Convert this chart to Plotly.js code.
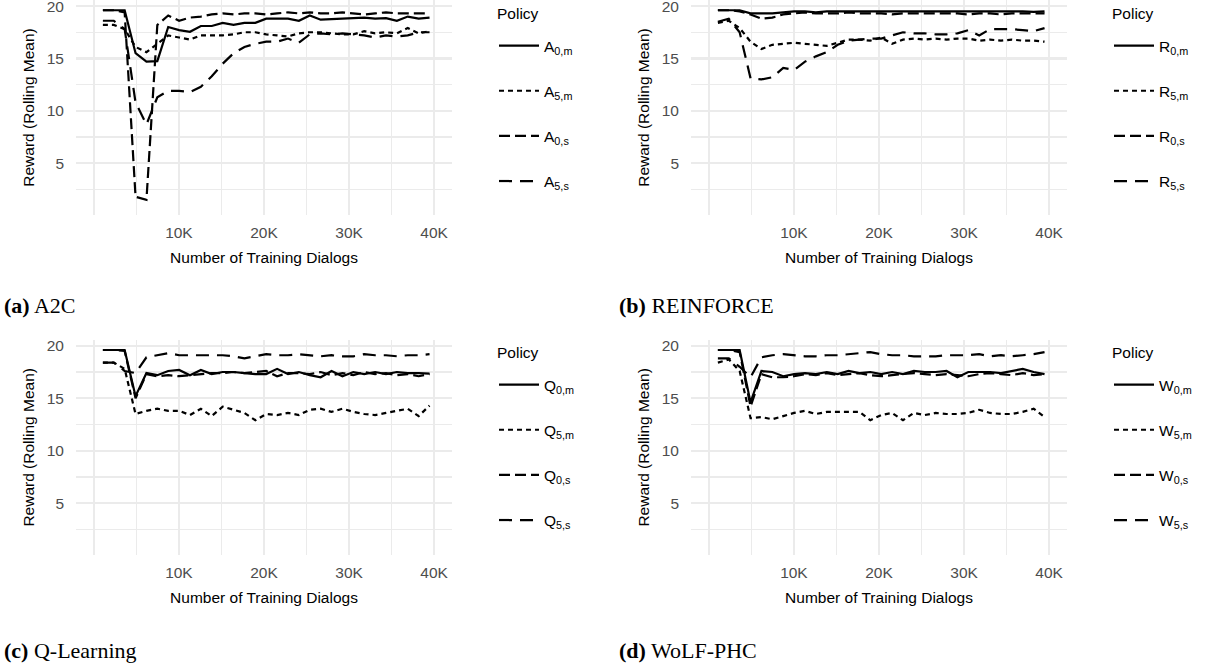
<!DOCTYPE html>
<html><head><meta charset="utf-8">
<script src="https://cdn.plot.ly/plotly-3.0.1.min.js"></script>
<style>html,body{margin:0;padding:0;background:#fff}#chart{width:1205px;height:663px}</style>
</head><body><div id="chart"></div>
<script>
// Number of training dialogs at each rolling-mean point
const dialogs = [1060, 2340, 3620, 4900, 6180, 7460, 8740, 10020, 11300, 12580, 13860, 15140, 16420, 17700, 18980, 20260, 21540, 22820, 24100, 25380, 26660, 27940, 29220, 30500, 31780, 33060, 34340, 35620, 36900, 38180, 39460];

// Tick labels
const xTickVals = [10000, 20000, 30000, 40000];
const xTickText = ['10K', '20K', '30K', '40K'];
const yTickVals = [5, 10, 15, 20];

// (a) A2C
const a_0m = [19.6,19.6,19.6,15.5,14.7,14.75,18.0,17.7,17.55,18.1,18.1,18.4,18.2,18.4,18.4,18.8,18.8,18.8,18.6,19.1,18.7,18.75,18.8,18.85,18.9,18.8,18.85,18.6,19.0,18.8,18.9];
const a_5m = [18.2,18.2,17.8,16.1,15.6,16.4,17.2,17.0,16.8,17.2,17.2,17.2,17.3,17.5,17.5,17.3,17.2,17.1,17.4,17.5,17.5,17.4,17.3,17.3,17.6,17.4,17.5,17.4,17.9,17.4,17.6];
const a_0s = [19.6,19.6,19.4,1.8,1.5,18.2,19.1,18.6,18.9,19.0,19.2,19.3,19.2,19.3,19.3,19.2,19.3,19.4,19.3,19.4,19.3,19.3,19.4,19.3,19.2,19.3,19.4,19.3,19.3,19.3,19.3];
const a_5s = [18.6,18.6,17.8,10.8,8.7,11.3,11.9,11.9,11.8,12.3,13.3,14.5,15.5,16.1,16.4,16.6,16.6,16.9,16.5,17.3,17.4,17.3,17.4,17.3,17.2,17.0,17.2,17.1,17.2,17.5,17.5];

// (b) REINFORCE
const r_0m = [19.6,19.6,19.6,19.3,19.3,19.3,19.4,19.5,19.5,19.4,19.5,19.5,19.5,19.55,19.5,19.5,19.55,19.5,19.5,19.5,19.5,19.5,19.5,19.5,19.5,19.5,19.5,19.5,19.5,19.45,19.5];
const r_5m = [18.4,18.6,17.9,16.6,15.9,16.3,16.4,16.5,16.4,16.3,16.2,16.5,16.8,16.8,16.7,17.0,16.4,16.8,16.9,16.8,16.9,16.8,16.9,16.9,16.7,16.8,16.7,16.8,16.7,16.7,16.6];
const r_0s = [19.6,19.6,19.5,19.2,18.8,18.9,19.2,19.3,19.4,19.3,19.3,19.3,19.4,19.3,19.3,19.3,19.2,19.3,19.3,19.3,19.3,19.3,19.3,19.2,19.3,19.3,19.2,19.3,19.3,19.3,19.3];
const r_5s = [18.5,18.8,17.5,13.1,13.0,13.2,14.1,13.9,14.7,15.2,15.6,16.3,16.7,16.8,16.9,16.9,17.2,17.5,17.4,17.4,17.3,17.3,17.4,17.7,17.2,17.8,17.8,17.8,17.7,17.6,17.9];

// (c) Q-Learning
const q_0m = [19.6,19.6,19.6,15.2,17.4,17.2,17.6,17.7,17.2,17.7,17.3,17.5,17.5,17.4,17.3,17.3,17.8,17.3,17.5,17.2,17.0,17.6,17.1,17.5,17.3,17.5,17.3,17.5,17.4,17.4,17.35];
const q_5m = [18.4,18.4,17.8,13.5,13.8,14.0,13.8,13.8,13.4,14.0,13.3,14.2,13.9,13.6,12.9,13.5,13.4,13.6,13.4,13.9,14.0,13.7,14.0,13.7,13.5,13.4,13.6,13.8,14.0,13.3,14.3];
const q_0s = [19.6,19.6,19.5,15.0,17.3,17.1,17.2,17.1,17.2,17.3,17.4,17.4,17.5,17.4,17.5,17.6,17.1,17.4,17.4,17.3,17.5,17.2,17.4,17.2,17.5,17.3,17.4,17.2,17.3,17.1,17.3];
const q_5s = [18.4,18.4,17.6,17.4,18.9,19.1,19.3,19.1,19.1,19.1,19.1,19.1,19.0,18.8,19.0,19.2,19.1,19.1,19.2,19.1,19.0,19.1,19.0,19.0,19.2,19.1,19.1,19.0,19.1,19.1,19.2];

// (d) WoLF-PHC
const w_0m = [19.6,19.6,19.6,14.6,17.6,17.5,17.1,17.3,17.4,17.3,17.5,17.3,17.6,17.4,17.5,17.3,17.5,17.3,17.6,17.5,17.5,17.6,17.0,17.5,17.5,17.5,17.4,17.6,17.8,17.5,17.3];
const w_5m = [18.4,18.7,17.6,13.1,13.2,13.0,13.3,13.6,13.8,13.5,13.7,13.7,13.7,13.7,12.9,13.4,13.6,12.9,13.6,13.4,13.6,13.5,13.5,13.6,13.9,13.6,13.5,13.5,13.7,14.0,13.2];
const w_0s = [19.6,19.6,19.4,14.2,17.3,17.0,17.0,17.1,17.3,17.2,17.4,17.2,17.3,17.4,17.2,17.1,17.2,17.3,17.4,17.3,17.2,17.3,17.2,17.1,17.3,17.4,17.3,17.2,17.4,17.2,17.3];
const w_5s = [18.8,18.8,18.0,17.0,18.9,19.1,19.2,19.1,19.0,19.0,19.1,19.1,19.2,19.3,19.4,19.2,19.1,19.1,19.0,19.0,19.0,19.1,19.1,19.1,19.2,19.0,19.1,19.0,19.1,19.2,19.4];

const seriesKeys = ['0,m', '5,m', '0,s', '5,s'];
const captions = ['<b>(a)</b> A2C', '<b>(b)</b> REINFORCE', '<b>(c)</b> Q-Learning', '<b>(d)</b> WoLF-PHC'];

const panels = [
  {letter: 'A', data: [a_0m, a_5m, a_0s, a_5s]},
  {letter: 'R', data: [r_0m, r_5m, r_0s, r_5s]},
  {letter: 'Q', data: [q_0m, q_5m, q_0s, q_5s]},
  {letter: 'W', data: [w_0m, w_5m, w_0s, w_5s]}
];

const W = 1205, H = 663;
const FONT = 'Liberation Sans, Arial, Helvetica, sans-serif';
const dashes = ['solid', '5px,4px', '11px,5px', '13px,8px'];

// pixel geometry of panels
const geo = [
  {x0: 76,  x1: 452,  yTop: 0,     yBot: 215, legX: 494,  titleY: 13,  legY: 29,  capX: 2,   capY: 305},
  {x0: 691, x1: 1067, yTop: 0,     yBot: 215, legX: 1109, titleY: 13,  legY: 29,  capX: 617, capY: 305},
  {x0: 76,  x1: 452,  yTop: 339.7, yBot: 555, legX: 494,  titleY: 352, legY: 368, capX: 2,   capY: 650},
  {x0: 691, x1: 1067, yTop: 339.7, yBot: 555, legX: 1109, titleY: 352, legY: 368, capX: 617, capY: 650}
];

const traces = [];
const layout = {
  width: W, height: H,
  margin: {l: 0, r: 0, t: 0, b: 0},
  paper_bgcolor: '#fff', plot_bgcolor: '#fff',
  font: {family: FONT, size: 15.5, color: '#000'},
  annotations: [],
  showlegend: true
};

panels.forEach((p, i) => {
  const n = i + 1;
  const xa = 'x' + (n === 1 ? '' : n), ya = 'y' + (n === 1 ? '' : n);
  const legName = 'legend' + (n === 1 ? '' : n);
  p.data.forEach((vals, k) => {
    traces.push({
      type: 'scatter', mode: 'lines',
      x: dialogs, y: vals,
      xaxis: xa, yaxis: ya,
      name: p.letter + '<sub>' + seriesKeys[k] + '</sub>',
      legend: legName, legendgroup: p.letter + k,
      line: {color: '#000', width: 2.2, dash: dashes[k]},
      hoverinfo: 'skip'
    });
  });
  const g = geo[i];
  const axX = 'xaxis' + (n === 1 ? '' : n), axY = 'yaxis' + (n === 1 ? '' : n);
  layout[axX] = {
    domain: [g.x0 / W, g.x1 / W], anchor: ya,
    range: [-2100, 42100], tickmode: 'array', tickvals: xTickVals, ticktext: xTickText,
    showgrid: true, gridcolor: '#EBEBEB', gridwidth: 2.2,
    minor: {tickmode: 'array', tickvals: [0, 5000, 15000, 25000, 35000], showgrid: true, gridcolor: '#EBEBEB', gridwidth: 1.5},
    zeroline: false, showline: false, ticks: '', ticklabelstandoff: 6, ticklabeloverflow: 'allow',
    tickfont: {family: FONT, size: 15.5, color: '#4D4D4D'},
    title: {text: 'Number of Training Dialogs', font: {family: FONT, size: 15.5, color: '#000'}, standoff: 12},
    fixedrange: true
  };
  layout[axY] = {
    domain: [(H - g.yBot) / H, (H - g.yTop) / H], anchor: xa,
    range: [0.06, 20.58], tickmode: 'array', tickvals: yTickVals,
    showgrid: true, gridcolor: '#EBEBEB', gridwidth: 2.2,
    minor: {tickmode: 'array', tickvals: [2.5, 7.5, 12.5, 17.5], showgrid: true, gridcolor: '#EBEBEB', gridwidth: 1.5},
    zeroline: false, showline: false, ticks: '', ticklabelstandoff: 11, ticklabeloverflow: 'allow',
    ticklabelshift: -1.5,
    tickfont: {family: FONT, size: 15.5, color: '#4D4D4D'},
    title: {text: 'Reward (Rolling Mean)', font: {family: FONT, size: 15.5, color: '#000'}, standoff: 8},
    fixedrange: true
  };
  layout[legName] = {
    x: g.legX / W, y: (H - g.legY) / H, xanchor: 'left', yanchor: 'top',
    xref: 'paper', yref: 'paper',
    font: {family: FONT, size: 15.5, color: '#000'},
    bgcolor: 'rgba(0,0,0,0)', borderwidth: 0, itemwidth: 40,
    tracegroupgap: 22, itemclick: false, itemdoubleclick: false
  };
  // legend title
  layout.annotations.push({
    xref: 'paper', yref: 'paper', x: (g.legX + 1) / W, y: (H - g.titleY) / H,
    xanchor: 'left', yanchor: 'middle', showarrow: false,
    text: 'Policy', font: {family: FONT, size: 15.5, color: '#000'}
  });
  // subfigure caption
  layout.annotations.push({
    xref: 'paper', yref: 'paper', x: g.capX / W, y: (H - g.capY) / H,
    xanchor: 'left', yanchor: 'middle', showarrow: false,
    text: captions[i], font: {family: 'Liberation Serif, Times New Roman, serif', size: 22, color: '#000'}
  });
});

Plotly.newPlot('chart', traces, layout, {displayModeBar: false, staticPlot: true});
</script>
</body></html>
